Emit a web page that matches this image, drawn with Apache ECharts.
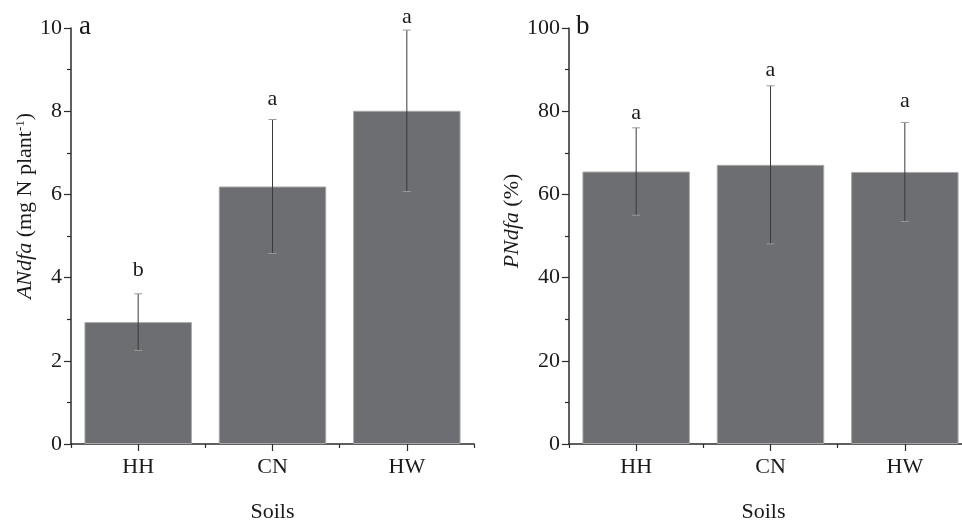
<!DOCTYPE html>
<html>
<head>
<meta charset="utf-8">
<script src="https://cdn.jsdelivr.net/npm/echarts@6/dist/echarts.min.js"></script>
<style>html,body{margin:0;padding:0;background:#fff}#c{width:962px;height:524px}</style>
</head>
<body>
<div id="c"></div>
<script>
const categories = ['HH', 'CN', 'HW'];
const andfaMean = [2.93, 6.19, 8.01];
const andfaSd = [0.68, 1.61, 1.94];
const andfaLetters = ['b', 'a', 'a'];
const andfaLetterPos = [4.18, 8.29, 10.26];
const pndfaMean = [65.5, 67.1, 65.4];
const pndfaSd = [10.5, 19.0, 11.9];
const pndfaLetters = ['a', 'a', 'a'];
const pndfaLetterPos = [79.6, 89.9, 82.3];
const leftTicks = [0, 2, 4, 6, 8, 10];
const rightTicks = [0, 20, 40, 60, 80, 100];

const FONT = 'Liberation Serif';
const FS = 22;
const TXT = '#1a1a1a';
const AX = '#2b2b2b';

function errData(mean, sd, letters, pos) {
  return mean.map((m, i) => [i, m - sd[i], m + sd[i], pos[i], letters[i]]);
}
function errRender(params, api) {
  const x = api.value(0);
  const lo = api.coord([x, api.value(1)]);
  const hi = api.coord([x, api.value(2)]);
  const lp = api.coord([x, api.value(3)]);
  const cap = 4;
  return {
    type: 'group',
    children: [
      { type: 'line', shape: { x1: hi[0], y1: hi[1], x2: lo[0], y2: lo[1] }, style: { stroke: '#3a3a3a', lineWidth: 1 } },
      { type: 'line', shape: { x1: hi[0] - cap, y1: hi[1], x2: hi[0] + cap, y2: hi[1] }, style: { stroke: '#9a9a9a', lineWidth: 1 } },
      { type: 'line', shape: { x1: lo[0] - cap, y1: lo[1], x2: lo[0] + cap, y2: lo[1] }, style: { stroke: '#9a9a9a', lineWidth: 1 } },
      { type: 'text', x: lp[0], y: lp[1], style: { text: api.value(4), fill: TXT, font: FS + 'px "' + FONT + '"', align: 'center', verticalAlign: 'middle' } }
    ]
  };
}

function yAxis(gi, max, interval, name, gap, rich, shiftPad) {
  return {
    type: 'value', gridIndex: gi, min: 0, max: max, interval: interval,
    name: name, nameLocation: 'middle', nameGap: gap, nameRotate: 90,
    nameTextStyle: { fontFamily: FONT, fontSize: FS, color: TXT, rich: rich, padding: [0, 0, 0, shiftPad] },
    axisLine: { show: true, lineStyle: { color: AX, width: 1.5 } },
    axisTick: { show: true, length: 7, lineStyle: { color: AX, width: 1.2 } },
    minorTick: { show: true, splitNumber: 2, length: 4, lineStyle: { color: AX, width: 1.2 } },
    axisLabel: { fontFamily: FONT, fontSize: FS, color: TXT, margin: 9 },
    splitLine: { show: false }
  };
}
function xAxes(gi, namePadRight) {
  return [
    {
      type: 'category', gridIndex: gi, data: categories,
      name: 'Soils', nameLocation: 'middle', nameGap: 57,
      nameTextStyle: { fontFamily: FONT, fontSize: FS, color: TXT, padding: [0, namePadRight, 0, 0] },
      axisLine: { lineStyle: { color: AX, width: 1.5 } },
      axisTick: { show: true, alignWithLabel: true, length: 7, lineStyle: { color: AX, width: 1.2 } },
      axisLabel: { fontFamily: FONT, fontSize: FS, color: TXT, margin: 12 },
      splitLine: { show: false }
    },
    {
      type: 'category', gridIndex: gi, data: categories, position: 'bottom',
      axisLine: { show: false },
      axisTick: { show: true, alignWithLabel: false, length: 4, lineStyle: { color: AX, width: 1.2 } },
      axisLabel: { show: false },
      splitLine: { show: false }
    }
  ];
}

const barStyle = { color: '#6d6e71', borderColor: '#a7a8aa', borderWidth: 1 };

const chart = echarts.init(document.getElementById('c'), null, { renderer: 'canvas' });
chart.setOption({
  animation: false,
  backgroundColor: '#fff',
  grid: [
    { left: 71, top: 28, width: 403, height: 416, outerBoundsMode: 'none', containLabel: false },
    { left: 569, top: 28, width: 403, height: 416, outerBoundsMode: 'none', containLabel: false }
  ],
  xAxis: [...xAxes(0, 0), ...xAxes(1, 14)],
  yAxis: [
    yAxis(0, 10, 2, '{i|ANdfa} (mg N plant{s|-1})', 33, { i: { fontStyle: 'italic', fontFamily: FONT, fontSize: FS, color: TXT }, s: { fontSize: 13, fontFamily: FONT, color: TXT, verticalAlign: 'top', padding: [0, 0, 8, 0] } }, 60),
    yAxis(1, 100, 20, '{i|PNdfa} (%)', 42, { i: { fontStyle: 'italic', fontFamily: FONT, fontSize: FS, color: TXT } }, 30)
  ],
  graphic: [
    { type: 'text', left: 79, top: 13, style: { text: 'a', font: '27px "' + FONT + '"', fill: TXT } },
    { type: 'text', left: 576, top: 13, style: { text: 'b', font: '27px "' + FONT + '"', fill: TXT } }
  ],
  series: [
    { type: 'bar', xAxisIndex: 0, yAxisIndex: 0, data: andfaMean, barWidth: '80%', itemStyle: barStyle },
    { type: 'custom', xAxisIndex: 0, yAxisIndex: 0, data: errData(andfaMean, andfaSd, andfaLetters, andfaLetterPos), renderItem: errRender, clip: false, z: 5 },
    { type: 'bar', xAxisIndex: 2, yAxisIndex: 1, data: pndfaMean, barWidth: '80%', itemStyle: barStyle },
    { type: 'custom', xAxisIndex: 2, yAxisIndex: 1, data: errData(pndfaMean, pndfaSd, pndfaLetters, pndfaLetterPos), renderItem: errRender, clip: false, z: 5 }
  ]
});
</script>
</body>
</html>
